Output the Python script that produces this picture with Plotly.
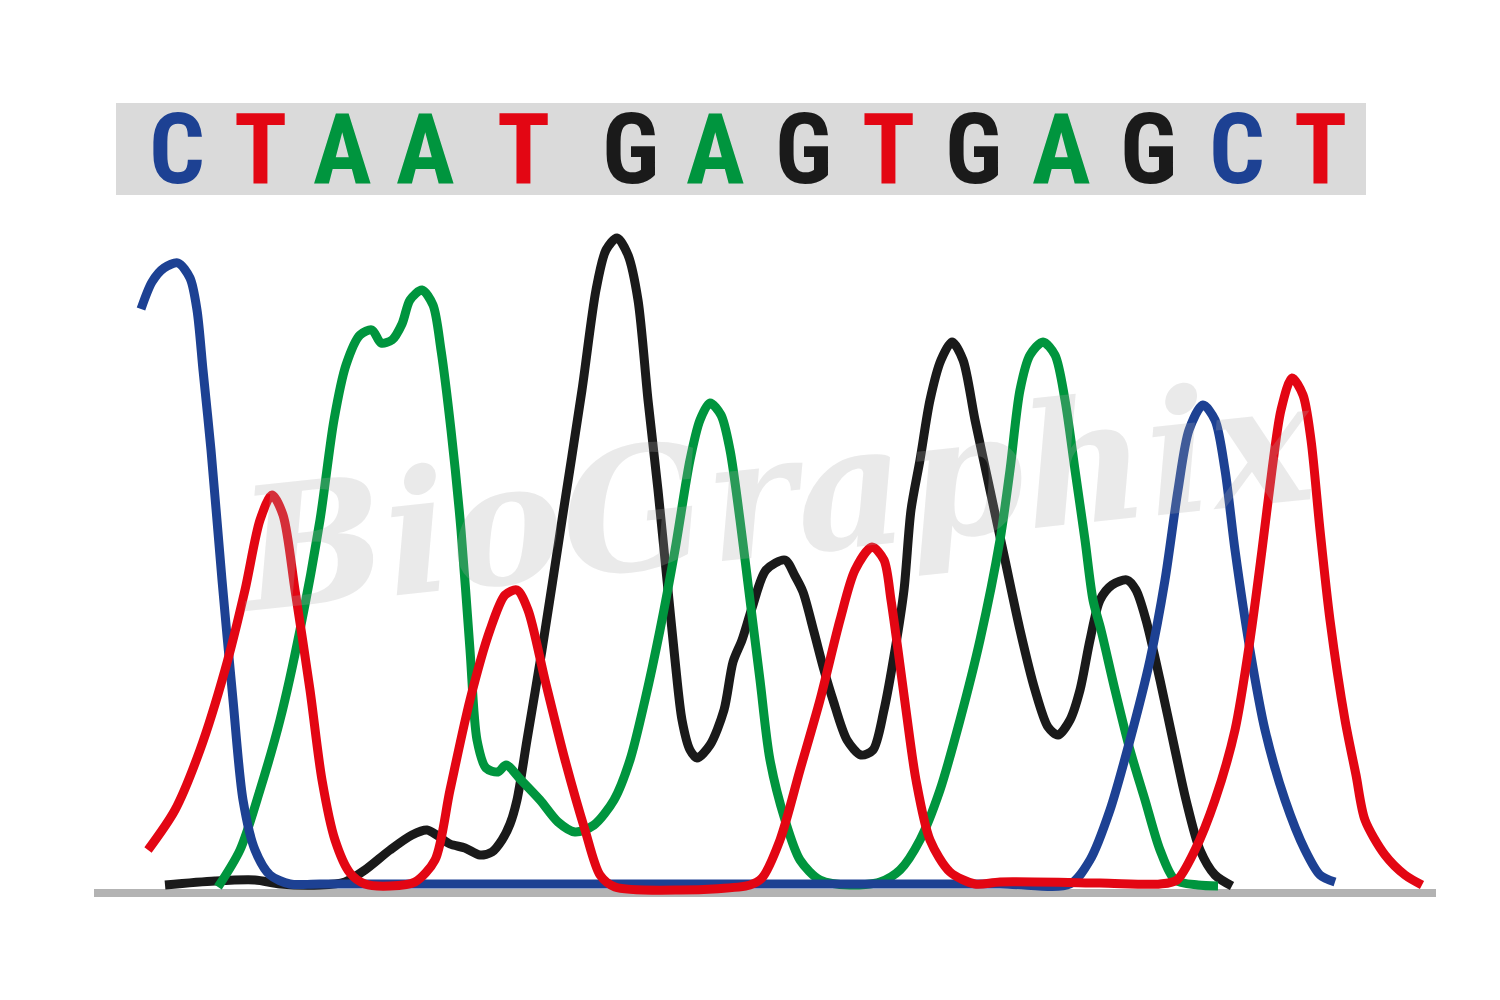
import plotly.graph_objects as go

# base calls read above the trace
bases = ["C", "T", "A", "A", "T", "G", "A", "G", "T", "G", "A", "G", "C", "T"]
base_pos = [177, 260, 342, 425, 523, 630, 715, 803, 888, 973, 1061, 1148, 1237, 1320]

base_colors = {"A": "#00953e", "C": "#1d4193", "G": "#1a1a1a", "T": "#e30613"}

# signal traces (scan position, intensity above baseline)
black_x = [165, 215, 255, 280, 320, 345, 365, 390, 412, 427, 438, 450, 465, 480, 492, 502, 510,
           517, 527, 542, 562, 582, 596, 606, 617, 628, 638, 648, 658, 667, 675, 682, 690, 697,
           710, 724, 733, 742, 752, 766, 785, 795, 803, 814, 824, 833, 847, 861, 873, 884, 895,
           904, 911, 920, 930, 941, 952, 963, 975, 990, 1005, 1020, 1035, 1048, 1058, 1070,
           1080, 1090, 1100, 1112, 1127, 1136, 1146, 1160, 1175, 1186, 1200, 1215, 1232]
black_y = [5, 9, 10, 6, 5, 8, 20, 40, 55, 60, 54, 46, 42, 35, 38, 50, 66,
           90, 150, 240, 370, 500, 600, 640, 652, 635, 590, 490, 400, 310, 230, 170, 140, 132,
           145, 180, 228, 250, 282, 320, 330, 314, 298, 258, 220, 190, 150, 135, 140, 180, 240,
           300, 380, 430, 490, 530, 548, 530, 470, 400, 330, 260, 200, 163, 155, 170,
           200, 250, 290, 305, 310, 300, 270, 210, 140, 90, 40, 15, 4]

green_x = [218, 240, 260, 280, 300, 320, 334, 346, 360, 372, 381, 392, 402, 410, 422, 433, 441,
           451, 461, 470, 477, 486, 498, 506, 521, 540, 558, 575, 594, 614, 630, 645, 660,
           675, 690, 700, 710, 721, 730, 740, 750, 760, 770, 785, 800, 820, 850, 880, 900,
           920, 940, 960, 980, 1000, 1010, 1020, 1030, 1043, 1055, 1065, 1075, 1085, 1093,
           1101, 1115, 1130, 1145, 1160, 1175, 1198, 1218]
green_y = [3, 40, 100, 170, 260, 370, 470, 525, 555, 560, 547, 550, 566, 590, 600, 585, 540,
           460, 360, 240, 150, 122, 118, 125, 110, 90, 68, 58, 65, 90, 130, 190, 260,
           340, 430, 470, 487, 475, 440, 370, 290, 210, 130, 70, 30, 10, 5, 8, 20,
           50, 100, 170, 250, 350, 420, 500, 535, 548, 535, 490, 420, 350, 290,
           260, 200, 140, 90, 40, 10, 5, 4]

blue_x = [141, 152, 164, 178, 190, 197, 203, 211, 222, 233, 243, 255, 270, 290, 320,
          700, 1000, 1070, 1090, 1110, 1130, 1150, 1165, 1178, 1189, 1203, 1215,
          1225, 1235, 1250, 1265, 1285, 1305, 1320, 1335]
blue_y = [581, 608, 622, 627, 612, 580, 520, 440, 310, 190, 90, 40, 15, 6, 6,
          6, 6, 6, 30, 80, 150, 230, 310, 400, 460, 485, 470, 420, 340, 240, 160, 90,
          40, 15, 8]

red_x = [148, 175, 200, 225, 245, 260, 272, 283, 295, 310, 322, 335, 350, 365, 390, 415, 435,
         450, 470, 490, 505, 517, 528, 545, 565, 585, 600, 615, 680, 750, 762, 780, 800,
         820, 840, 855, 872, 884, 891, 898, 906, 916, 930, 950, 975, 1000, 1100, 1160,
         1177, 1195, 1215, 1235, 1250, 1262, 1272, 1281, 1292, 1303, 1311, 1320, 1330,
         1345, 1356, 1365, 1385, 1405, 1422]
red_y = [40, 80, 140, 220, 300, 370, 395, 375, 300, 200, 110, 50, 17, 6, 4, 8, 30,
         100, 190, 260, 295, 300, 280, 210, 130, 60, 15, 3, 0, 5, 12, 50, 120,
         190, 270, 320, 343, 330, 290, 240, 180, 110, 50, 18, 6, 8, 7, 6,
         10, 40, 90, 160, 250, 340, 420, 480, 512, 495, 450, 360, 270,
         170, 115, 70, 35, 15, 5]

# drawn bottom to top
traces = [("G", black_x, black_y), ("A", green_x, green_y),
          ("C", blue_x, blue_y), ("T", red_x, red_y)]

fig = go.Figure()
for base, xs, ys in traces:
    fig.add_trace(go.Scatter(x=xs, y=ys, mode="lines",
                             line=dict(color=base_colors[base], width=9, shape="spline", smoothing=0.8),
                             hoverinfo="skip", showlegend=False))

# watermark
fig.add_annotation(x=775, y=395, text="<b><i>BioGraphix</i></b>", showarrow=False, textangle=-6,
                   font=dict(family="DejaVu Serif", size=170, color="rgba(170,170,170,0.25)"))

# sequence bar
fig.add_shape(type="rect", x0=116, x1=1366, y0=695, y1=787, line=dict(width=0),
              fillcolor="#dadada", layer="below")
for b, xp in zip(bases, base_pos):
    fig.add_annotation(x=xp, y=741, text="<b>" + b + "</b>", showarrow=False,
                       font=dict(family="Roboto Condensed, Open Sans Condensed, sans-serif",
                                 size=98, color=base_colors[b]))

# baseline
fig.add_shape(type="line", x0=94, x1=1436, y0=-3, y1=-3, line=dict(color="#b3b3b3", width=8),
              layer="below")

fig.update_layout(width=1500, height=1000, margin=dict(l=0, r=0, t=0, b=0),
                  paper_bgcolor="white", plot_bgcolor="white")
fig.update_xaxes(range=[8, 1508], visible=False)
fig.update_yaxes(range=[-118, 882], visible=False)

fig.write_html("out.html")
